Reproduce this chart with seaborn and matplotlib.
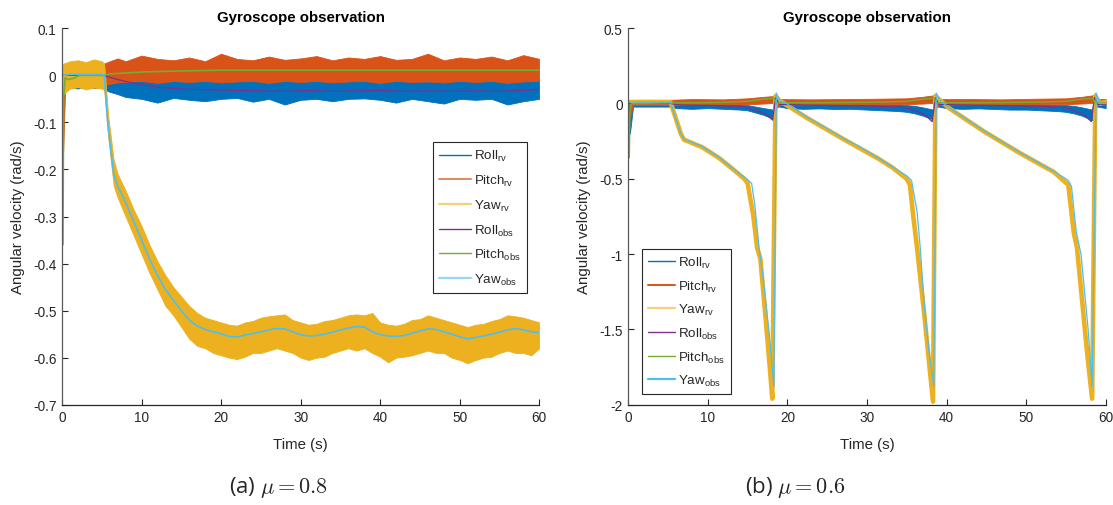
import numpy as np
import pandas as pd
import matplotlib
matplotlib.use("Agg")
import matplotlib.pyplot as plt
from matplotlib.lines import Line2D
import seaborn as sns

# ---------------------------------------------------------------- colours
C_ROLL_RV = "#0072BD"
C_PITCH_RV = "#D95319"
C_YAW_RV = "#EDB120"
C_ROLL_OBS = "#7E2F8E"
C_PITCH_OBS = "#77AC30"
C_YAW_OBS = "#4DBEEE"

# ====================================================== (a) mu = 0.8 data
# raw gyro readings shown as min/max envelopes, observer estimates as lines
t_rp_a = [0, 0.15, 0.4, 1, 2, 3, 4, 5, 5.3, 6, 7, 8, 10, 12, 14, 16, 18, 20,
          22, 24, 26, 28, 30, 32, 34, 36, 38, 40, 42, 44, 46, 48, 50, 52, 54,
          56, 58, 60]
roll_rv_hi_a = [0.02, 0.01, 0.022, 0.02, 0.024, 0.02, 0.022, 0.02, 0.015, 0.0,
                -0.004, -0.008, -0.006, -0.008, -0.005, -0.01, -0.006, -0.008,
                -0.005, -0.008, -0.006, -0.009, -0.005, -0.008, -0.006, -0.01,
                -0.006, -0.008, -0.005, -0.008, -0.006, -0.009, -0.005, -0.008,
                -0.006, -0.01, -0.006, -0.008]
roll_rv_lo_a = [-0.02, -0.06, -0.03, -0.025, -0.028, -0.024, -0.027, -0.025,
                -0.03, -0.035, -0.04, -0.046, -0.05, -0.058, -0.048, -0.052,
                -0.055, -0.05, -0.048, -0.056, -0.05, -0.062, -0.052, -0.05,
                -0.055, -0.05, -0.049, -0.052, -0.058, -0.05, -0.055, -0.06,
                -0.05, -0.052, -0.05, -0.062, -0.055, -0.05]
pitch_rv_hi_a = [0.02, 0.02, 0.025, 0.022, 0.025, 0.02, 0.024, 0.022, 0.025,
                 0.03, 0.036, 0.03, 0.042, 0.035, 0.032, 0.038, 0.03, 0.046,
                 0.035, 0.032, 0.04, 0.033, 0.036, 0.041, 0.032, 0.038, 0.035,
                 0.041, 0.033, 0.035, 0.046, 0.032, 0.038, 0.035, 0.04, 0.032,
                 0.043, 0.035]
pitch_rv_lo_a = [-0.02, -0.16, -0.025, -0.022, -0.025, -0.02, -0.024, -0.022,
                 -0.02, -0.018, -0.015, -0.014, -0.012, -0.016, -0.012, -0.014,
                 -0.012, -0.015, -0.013, -0.012, -0.016, -0.012, -0.014, -0.012,
                 -0.015, -0.013, -0.012, -0.016, -0.012, -0.014, -0.013, -0.015,
                 -0.012, -0.014, -0.012, -0.016, -0.013, -0.012]

t_yaw_a = [0, 0.2, 1, 2, 3, 4, 5, 5.3, 5.8, 6.5, 7, 8, 9, 10, 11, 12, 13, 14,
           15, 16, 17, 18, 19, 20, 21, 22, 23, 24, 25, 26, 27, 28, 29, 30, 31,
           32, 33, 34, 35, 36, 37, 38, 39, 40, 41, 42, 43, 44, 45, 46, 47, 48,
           49, 50, 51, 52, 53, 54, 55, 56, 57, 58, 59, 60]
yaw_obs_a = [0.0, 0.0, 0.002, 0.002, 0.002, 0.002, 0.002, 0.0, -0.11, -0.21,
             -0.235, -0.27, -0.31, -0.35, -0.39, -0.425, -0.455, -0.478, -0.5,
             -0.52, -0.533, -0.54, -0.545, -0.549, -0.555, -0.556, -0.552,
             -0.549, -0.545, -0.541, -0.538, -0.539, -0.545, -0.551, -0.554,
             -0.553, -0.55, -0.546, -0.541, -0.537, -0.534, -0.535, -0.545,
             -0.551, -0.554, -0.555, -0.553, -0.548, -0.543, -0.539, -0.54,
             -0.545, -0.55, -0.556, -0.56, -0.557, -0.554, -0.55, -0.546,
             -0.541, -0.538, -0.541, -0.545, -0.547]
yaw_rv_hi_a = [0.02, 0.025, 0.03, 0.032, 0.028, 0.034, 0.03, 0.025, -0.085,
               -0.18, -0.21, -0.245, -0.285, -0.32, -0.36, -0.395, -0.425,
               -0.45, -0.47, -0.49, -0.505, -0.515, -0.52, -0.525, -0.53,
               -0.532, -0.525, -0.522, -0.515, -0.512, -0.51, -0.508, -0.52,
               -0.525, -0.53, -0.528, -0.522, -0.52, -0.515, -0.51, -0.508,
               -0.51, -0.505, -0.525, -0.53, -0.532, -0.528, -0.52, -0.518,
               -0.51, -0.515, -0.52, -0.525, -0.53, -0.535, -0.53, -0.528,
               -0.522, -0.518, -0.51, -0.512, -0.515, -0.52, -0.525]
yaw_rv_lo_a = [-0.03, -0.04, -0.028, -0.025, -0.03, -0.026, -0.028, -0.03,
               -0.13, -0.235, -0.26, -0.3, -0.34, -0.38, -0.42, -0.455, -0.49,
               -0.51, -0.535, -0.56, -0.575, -0.58, -0.59, -0.595, -0.6, -0.603,
               -0.598, -0.59, -0.59, -0.585, -0.58, -0.585, -0.59, -0.6, -0.605,
               -0.6, -0.598, -0.59, -0.585, -0.58, -0.585, -0.58, -0.59, -0.598,
               -0.61, -0.6, -0.598, -0.595, -0.59, -0.585, -0.59, -0.59, -0.6,
               -0.605, -0.612, -0.605, -0.6, -0.598, -0.59, -0.585, -0.59, -0.59,
               -0.595, -0.58]

t_roll_obs_a = [0, 5.3, 6, 7, 8, 10, 12.5, 15, 19, 22, 25, 28, 31, 34, 37, 40,
                43, 46, 49, 52, 55, 58, 60]
roll_obs_a = [0, 0, -0.004, -0.009, -0.013, -0.02, -0.026, -0.029, -0.031,
              -0.032, -0.033, -0.034, -0.032, -0.034, -0.033, -0.032, -0.034,
              -0.033, -0.034, -0.033, -0.034, -0.032, -0.03]
t_pitch_obs_a = [0.12, 0.2, 0.4, 0.8, 1.5, 2.2, 5.3, 6, 8, 10, 14, 20, 30, 40,
                 50, 60]
pitch_obs_a = [-0.36, -0.05, -0.005, -0.009, -0.006, 0.0, 0.0, 0.003, 0.005,
               0.007, 0.009, 0.011, 0.011, 0.011, 0.011, 0.011]

# ====================================================== (b) mu = 0.6 data
t_roll_b = [0, 0.2, 0.6, 5.3, 6, 8, 10, 12, 14, 15, 16, 17, 18.2, 18.5, 19, 20,
            22, 24, 26, 28, 30, 32, 34, 35, 36, 37, 38.3, 38.6, 39, 40, 42, 44,
            46, 48, 50, 52, 54, 55, 56, 57, 58.3, 58.6, 59, 60]
roll_rv_hi_b = [0.02, 0.0, 0.02, 0.02, 0.0, 0.0, 0.0, -0.005, -0.005, -0.01,
                -0.02, -0.03, -0.04, 0.06, 0.02, 0.0, 0.0, -0.002, 0.0, -0.003,
                -0.002, -0.005, -0.005, -0.01, -0.015, -0.025, -0.04, 0.06,
                0.02, 0.0, 0.0, -0.002, 0.0, -0.003, -0.003, -0.005, -0.008,
                -0.01, -0.015, -0.025, -0.04, 0.06, 0.02, 0.0]
roll_rv_lo_b = [-0.02, -0.2, -0.02, -0.02, -0.03, -0.035, -0.03, -0.035, -0.04,
                -0.045, -0.06, -0.075, -0.1, -0.02, -0.02, -0.03, -0.035,
                -0.032, -0.036, -0.035, -0.04, -0.045, -0.05, -0.055, -0.065,
                -0.08, -0.105, -0.02, -0.02, -0.03, -0.035, -0.032, -0.036,
                -0.04, -0.04, -0.045, -0.05, -0.055, -0.065, -0.08, -0.11,
                -0.02, -0.02, -0.03]

t_pitch_b = [0, 0.2, 0.6, 5.3, 8, 12, 15, 17, 18.3, 18.6, 19, 23, 27, 31, 35,
             37, 38.4, 38.7, 39, 43, 47, 51, 55, 57, 58.4, 58.7, 59, 60]
pitch_rv_hi_b = [0.02, 0.0, 0.025, 0.025, 0.03, 0.028, 0.035, 0.045, 0.05, 0.06,
                 0.03, 0.028, 0.03, 0.032, 0.035, 0.045, 0.055, 0.06, 0.03,
                 0.03, 0.028, 0.032, 0.035, 0.045, 0.055, 0.07, 0.03, 0.03]
pitch_rv_lo_b = [-0.02, -0.1, -0.01, -0.01, -0.008, -0.006, -0.005, 0.0, 0.005,
                 -0.03, -0.01, -0.008, -0.006, -0.006, -0.004, 0.0, 0.005,
                 -0.03, -0.01, -0.008, -0.006, -0.006, -0.004, 0.0, 0.005,
                 -0.03, -0.01, -0.008]

t_yaw_rv_b = [0, 5.3, 6.6, 7.0, 9.3, 11.5, 13.7, 14.6, 15.0, 15.7, 16.2, 16.6,
              17.3, 17.8, 18.1, 18.5, 19.0, 22.6, 27, 31.4, 33.2, 35.0, 35.4,
              35.8, 36.3, 37.2, 38.3, 38.6, 40.3, 44.7, 49.1, 53.5, 55.3, 56.0,
              56.4, 57.1, 57.7, 58.3, 58.7, 59.3, 60]
yaw_rv_b = [0.01, 0.01, -0.2, -0.24, -0.29, -0.365, -0.46, -0.5, -0.53, -0.74,
            -0.96, -1.03, -1.45, -1.76, -1.96, 0.05, 0.02, -0.1, -0.235, -0.365,
            -0.425, -0.5, -0.54, -0.74, -0.96, -1.4, -1.98, 0.05, -0.03, -0.185,
            -0.325, -0.455, -0.54, -0.86, -0.96, -1.34, -1.67, -1.96, 0.05, 0.0,
            0.01]

t_yaw_obs_b = [0, 5.3, 6.6, 7.0, 9.3, 11.5, 13.7, 15.0, 15.5, 15.9, 16.4, 17.0,
               17.7, 18.3, 18.6, 19.0, 19.9, 22.6, 24.8, 27.0, 29.2, 31.4, 33.2,
               35.0, 35.6, 36.3, 36.7, 37.2, 37.8, 38.4, 38.7, 39.2, 40.3, 44.7,
               49.1, 53.5, 55.3, 55.7, 56.3, 56.9, 57.8, 58.3, 58.8, 59.3, 60]
yaw_obs_b = [0.01, 0.01, -0.2, -0.235, -0.285, -0.36, -0.455, -0.505, -0.53,
             -0.67, -0.94, -1.18, -1.52, -1.88, 0.07, 0.02, 0.0, -0.094, -0.16,
             -0.23, -0.29, -0.36, -0.42, -0.48, -0.51, -0.72, -0.96, -1.34,
             -1.65, -1.88, 0.07, 0.02, -0.027, -0.18, -0.32, -0.45, -0.51,
             -0.55, -0.85, -1.0, -1.5, -1.88, 0.07, 0.0, 0.0]

t_roll_obs_b = [0, 5.3, 6.5, 10, 14, 15, 16.4, 17.5, 18.15, 18.5, 19, 22, 30,
                34, 35.5, 36.5, 37.5, 38.2, 38.6, 39, 42, 50, 54, 55.5, 56.5,
                57.5, 58.2, 58.6, 59, 60]
roll_obs_b = [0, 0, -0.01, -0.012, -0.018, -0.027, -0.05, -0.08, -0.11, 0.04,
              -0.005, -0.01, -0.015, -0.022, -0.035, -0.055, -0.085, -0.12,
              0.04, -0.005, -0.01, -0.015, -0.022, -0.035, -0.055, -0.085,
              -0.12, 0.04, -0.005, -0.008]

t_pitch_obs_b = [0.12, 0.2, 0.4, 5.3, 8, 12, 15, 17, 18.3, 18.6, 19, 25, 32,
                 35, 37, 38.4, 38.7, 39, 45, 52, 55, 57, 58.4, 58.7, 59, 60]
pitch_obs_b = [-0.36, -0.05, 0.0, 0.005, 0.005, 0.008, 0.015, 0.03, 0.035, 0.0,
               0.005, 0.006, 0.01, 0.015, 0.03, 0.035, 0.0, 0.005, 0.006, 0.01,
               0.015, 0.03, 0.035, 0.0, 0.005, 0.005]

# ---------------------------------------------------------------- axes text
x_ticks = [0, 10, 20, 30, 40, 50, 60]
y_ticks_a = [-0.7, -0.6, -0.5, -0.4, -0.3, -0.2, -0.1, 0, 0.1]
y_labels_a = ["-0.7", "-0.6", "-0.5", "-0.4", "-0.3", "-0.2", "-0.1", "0", "0.1"]
y_ticks_b = [-2, -1.5, -1, -0.5, 0, 0.5]
y_labels_b = ["-2", "-1.5", "-1", "-0.5", "0", "0.5"]
legend_labels = [r"Roll$_\mathregular{rv}$", r"Pitch$_\mathregular{rv}$",
                 r"Yaw$_\mathregular{rv}$", r"Roll$_\mathregular{obs}$",
                 r"Pitch$_\mathregular{obs}$", r"Yaw$_\mathregular{obs}$"]

# ---------------------------------------------------------------- style
sns.set_style("ticks")
plt.rcParams["font.family"] = ["Liberation Sans", "DejaVu Sans"]
plt.rcParams["axes.unicode_minus"] = False

fig = plt.figure(figsize=(11.13, 5.06), dpi=100)
ax_a = fig.add_axes([0.0557, 0.1982, 0.4288, 0.7439])
ax_b = fig.add_axes([0.5645, 0.1982, 0.4289, 0.7439])


def line(ax, t, v, color, lw):
    sns.lineplot(x=t, y=v, ax=ax, color=color, lw=lw, legend=False,
                 estimator=None, sort=False)


def band(ax, t, lo, hi, color):
    ax.fill_between(t, lo, hi, color=color, lw=0.6, edgecolor=color)


# (a)
band(ax_a, t_rp_a, roll_rv_lo_a, roll_rv_hi_a, C_ROLL_RV)
band(ax_a, t_rp_a, pitch_rv_lo_a, pitch_rv_hi_a, C_PITCH_RV)
band(ax_a, t_yaw_a, yaw_rv_lo_a, yaw_rv_hi_a, C_YAW_RV)
line(ax_a, t_roll_obs_a, roll_obs_a, C_ROLL_OBS, 0.9)
line(ax_a, t_pitch_obs_a, pitch_obs_a, C_PITCH_OBS, 1.2)
line(ax_a, t_yaw_a, yaw_obs_a, C_YAW_OBS, 1.2)

# (b)
band(ax_b, t_roll_b, roll_rv_lo_b, roll_rv_hi_b, C_ROLL_RV)
band(ax_b, t_pitch_b, pitch_rv_lo_b, pitch_rv_hi_b, C_PITCH_RV)
line(ax_b, t_yaw_rv_b, yaw_rv_b, C_YAW_RV, 3.3)
line(ax_b, t_roll_obs_b, roll_obs_b, C_ROLL_OBS, 0.9)
line(ax_b, t_pitch_obs_b, pitch_obs_b, C_PITCH_OBS, 1.1)
line(ax_b, t_yaw_obs_b, yaw_obs_b, C_YAW_OBS, 0.9)

for ax, yt, yl, ylim in [(ax_a, y_ticks_a, y_labels_a, (-0.7, 0.1)),
                         (ax_b, y_ticks_b, y_labels_b, (-2, 0.5))]:
    ax.set_xlim(0, 60)
    ax.set_ylim(*ylim)
    ax.set_xticks(x_ticks)
    ax.set_xticklabels([str(x) for x in x_ticks])
    ax.set_yticks(yt)
    ax.set_yticklabels(yl)
    sns.despine(ax=ax)
    ax.spines["bottom"].set_color("#262626")
    ax.spines["left"].set_color("#5a5a5a")
    ax.spines["bottom"].set_linewidth(0.9)
    ax.spines["left"].set_linewidth(0.9)
    ax.tick_params(direction="in", length=4, width=0.8, colors="#262626",
                   labelsize=9.8, pad=4)
    ax.set_title("Gyroscope observation", fontsize=10.8, fontweight="bold",
                 color="black", pad=5)
    ax.set_xlabel("Time (s)", fontsize=10.8, color="#262626")
    ax.set_ylabel("Angular velocity (rad/s)", fontsize=10.8, color="#262626")
    ax.xaxis.set_label_coords(0.5, -0.085)
    ax.yaxis.set_label_coords(-0.078, 0.5)

# legends
alpha_a = [1, 0.7, 0.6, 1, 1, 0.6]
alpha_b = [1, 1, 0.6, 1, 1, 1]
colors = [C_ROLL_RV, C_PITCH_RV, C_YAW_RV, C_ROLL_OBS, C_PITCH_OBS, C_YAW_OBS]
lw_leg = [1.0, 1.4, 1.6, 1.0, 1.0, 1.6]
for ax, alphas, anchor, hl, ls in [(ax_a, alpha_a, (0.777, 0.697), 2.4, 0.72),
                                   (ax_b, alpha_b, (0.029, 0.414), 2.0, 0.64)]:
    handles = [Line2D([], [], color=c, lw=w, alpha=a)
               for c, w, a in zip(colors, lw_leg, alphas)]
    leg = ax.legend(handles, legend_labels, loc="upper left",
                    bbox_to_anchor=anchor, fontsize=9.6, frameon=True,
                    fancybox=False, framealpha=1, edgecolor="#262626",
                    handlelength=hl, handletextpad=0.25, labelspacing=ls,
                    borderpad=0.45, borderaxespad=0)
    leg.get_frame().set_linewidth(0.8)

# sub-figure captions
fig.text(0.2507, 0.036, r"(a) $\mu = 0.8$", ha="center", va="center",
         fontsize=16, family="Open Sans", math_fontfamily="cm")
fig.text(0.714, 0.036, r"(b) $\mu = 0.6$", ha="center", va="center",
         fontsize=16, family="Open Sans", math_fontfamily="cm")

fig.savefig("out.png", dpi=100)
